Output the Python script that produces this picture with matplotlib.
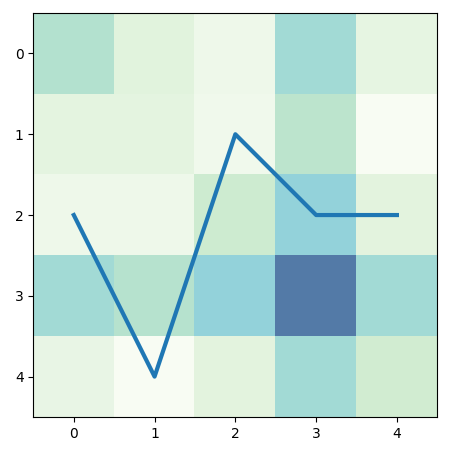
import numpy as np
import matplotlib.pyplot as plt

# valeurs de la grille (echelle 0..1)
grid = [
    [0.43, 0.19, 0.08, 0.50, 0.15],
    [0.17, 0.17, 0.07, 0.40, 0.01],
    [0.08, 0.08, 0.32, 0.56, 0.18],
    [0.50, 0.42, 0.56, 1.00, 0.50],
    [0.13, 0.01, 0.18, 0.50, 0.30],
]
line_x = [0, 1, 2, 3, 4]
line_y = [2, 4, 1, 2, 2]

fig = plt.figure(figsize=(4.5, 4.59), dpi=100)
ax = fig.add_axes([0.073, 0.0915, 0.9, 0.88])

ax.imshow(np.array(grid), cmap='GnBu', alpha=0.7, vmin=0, vmax=1)
ax.plot(line_x, line_y, color='#1f77b4', linewidth=3)

ax.set_xticks(line_x)
ax.set_yticks(line_x)
ax.tick_params(labelsize=10)

fig.savefig('out.png', dpi=100)
